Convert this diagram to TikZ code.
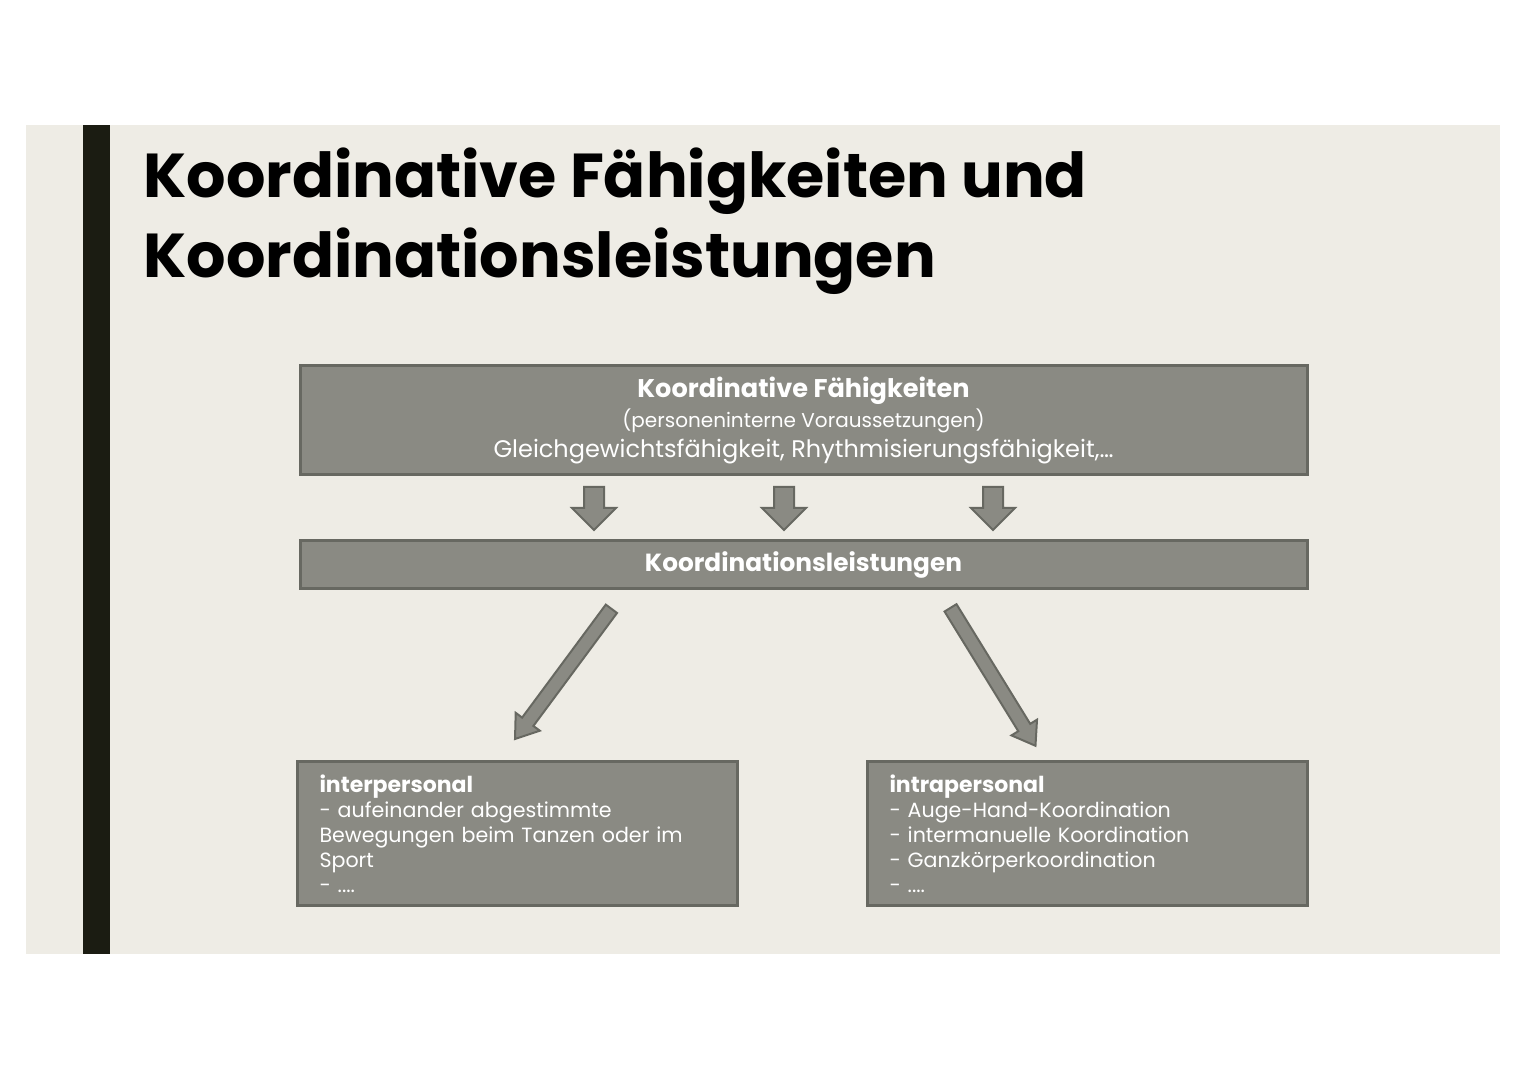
\documentclass[tikz,border=0pt]{standalone}
\usepackage{fontspec}
\setmainfont{Poppins}
\usetikzlibrary{positioning,shapes.arrows}

\definecolor{slidebg}{HTML}{EEECE5}
\definecolor{boxfill}{HTML}{8A8A83}
\definecolor{boxline}{HTML}{676861}
\definecolor{barcol}{HTML}{1B1C12}

\begin{document}
\begin{tikzpicture}[x=0.5pt,y=-0.5pt]
      \tikzset{
        node distance=31.5pt,
        box/.style={draw=boxline,line width=1.5pt,fill=boxfill,text=white,inner sep=0pt},
        blockarrow/.style={single arrow,draw=boxline,line width=1pt,fill=boxfill,
          inner xsep=0pt,sloped,allow upside down,anchor=tail},
        downarrow/.style={blockarrow,inner ysep=4.5pt,single arrow head extend=6pt,
          minimum height=21.5pt},
        diagarrow/.style={blockarrow,inner ysep=3pt,single arrow head extend=4pt,
          single arrow tip angle=70,minimum height=81pt}
      }

      \useasboundingbox (0,0) rectangle (1527,1080);
      \fill[white] (0,0) rectangle (1527,1080);
      \fill[slidebg] (26,125) rectangle (1500,954);
      \fill[barcol] (83,125) rectangle (110,954);

      \node[anchor=north west,align=left,inner sep=0pt,
            font=\fontsize{31}{40}\selectfont\bfseries] (title) at (143,147)
            {Koordinative Fähigkeiten und\\Koordinationsleistungen};

      \node[box,minimum width=503.5pt,minimum height=54.5pt,align=center,
            font=\fontsize{12}{15}\selectfont] (fk) at (803.5,420.5)
            {{\fontsize{12.8}{15}\selectfont\bfseries Koordinative Fähigkeiten}\\
             {\fontsize{10}{13}\selectfont (personeninterne Voraussetzungen)}\\
             Gleichgewichtsfähigkeit, Rhythmisierungsfähigkeit,…};
      \node[box,below=of fk,minimum width=503.5pt,minimum height=24pt,
            font=\fontsize{12.4}{15}\selectfont\bfseries] (kl)
            {Koordinationsleistungen};

      \node[box,anchor=north west,text width=198pt,inner xsep=11pt,
            minimum height=72pt,align=left,font=\fontsize{10.3}{12.5}\selectfont]
            (inter) at (296,760)
            {{\fontsize{11}{12.5}\selectfont\bfseries interpersonal}\\
             - aufeinander abgestimmte\\
             Bewegungen beim Tanzen oder im\\
             Sport\\
             - ....};
      \node[box,anchor=north west,text width=198pt,inner xsep=11pt,
            minimum height=72pt,align=left,font=\fontsize{10.3}{12.5}\selectfont]
            (intra) at (866,760)
            {{\fontsize{11}{12.5}\selectfont\bfseries intrapersonal}\\
             - Auge-Hand-Koordination\\
             - intermanuelle Koordination\\
             - Ganzkörperkoordination\\
             - ....\\[2pt]};

      % arrows between the boxes
      \foreach \ax in {594,784,993}
        \path (\ax,0 |- fk.south) -- (\ax,0 |- kl.north)
              node[downarrow,pos=0.15] {};

      \coordinate (l1) at (612,608);
      \coordinate (l2) at (515,739);
      \coordinate (r1) at (950,607);
      \coordinate (r2) at (1035,745);
      \path (l1) -- (l2) node[diagarrow,pos=0] (la) {};
      \path (r1) -- (r2) node[diagarrow,pos=0] (ra) {};
\end{tikzpicture}
\end{document}
